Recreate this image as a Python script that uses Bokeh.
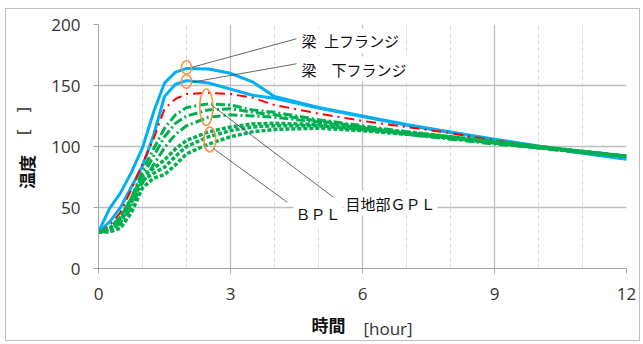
from bokeh.plotting import figure
from bokeh.models import FixedTicker, Label, LinearAxis
from bokeh.embed import file_html
from bokeh.resources import INLINE

# ---- data (hours, temperature) ----
t = [0, 0.25, 0.5, 0.75, 1.0, 1.25, 1.5, 1.75, 2.0, 2.5, 3.0, 3.5, 4.0, 5, 6, 7, 8, 9, 10, 11, 12]

flange_upper = [30, 49, 62, 79, 99, 128, 152, 161, 164, 163.5, 160, 153, 141, 132, 125, 118, 112, 106, 100.5, 95, 90]
flange_lower = [30, 38, 50, 67, 84, 109, 141, 151, 154, 152, 147, 142, 139.5, 131.5, 124.5, 117.5, 111.5, 105.5, 100, 94.5, 89.5]
red_line = [30, 35, 46, 65, 86, 106, 131, 139, 143, 144, 143, 140, 134, 127, 121, 116, 111, 105, 100, 96, 91]

gpl_1 = [30, 33, 42, 58, 80, 98, 115, 126, 132, 135, 134, 130, 128, 122, 117, 112, 108, 104, 100, 96, 92]
gpl_2 = [30, 32, 40, 55, 76, 92, 108, 119, 125, 130, 131, 128, 126, 121, 116, 111, 107, 103, 99, 96, 92]
gpl_3 = [30, 31, 37, 50, 70, 85, 99, 110, 117, 124, 126, 125, 124, 120, 115, 110, 106, 102, 99, 95, 92]

bpl_1 = [30, 33, 42, 58, 76, 82, 89, 98, 105, 112, 116, 118.5, 119, 118, 115, 112, 108, 104, 100, 96, 92]
bpl_2 = [30, 31, 38, 54, 72, 78, 83, 92, 100, 108, 113, 116, 117, 117, 114, 111, 107, 103, 99, 96, 92]
bpl_3 = [30, 30, 33, 46, 66, 74, 77, 85, 94, 102, 108, 112, 114, 115, 113, 110, 107, 103, 99, 95, 92]

x_ticks = [0, 3, 6, 9, 12]
x_minor = [1, 2, 4, 5, 7, 8, 10, 11]
y_ticks = [0, 50, 100, 150, 200]

label_top = "梁\u2002上フランジ"
label_bottom = "梁　下フランジ"
label_gpl = "目地部ＧＰＬ"
label_bpl = "ＢＰＬ"
SP = "\u3000"
x_title_main = "時間" + SP * 4
x_title_unit = SP * 3 + "[hour]"
y_title_main = "温度" + SP * 3
y_title_unit = SP * 3 + "[" + SP + "]"

# ---- figure ----
p = figure(width=635, height=333, x_range=(0, 12), y_range=(0, 200),
           output_backend="svg", toolbar_location=None,
           min_border_left=92, min_border_right=15, min_border_top=15, min_border_bottom=74)
p.outline_line_color = None
p.background_fill_color = "white"
p.styles = {"border": "1px solid #BFBFBF", "margin-left": "5px", "margin-top": "8px"}

p.xaxis.ticker = FixedTicker(ticks=x_ticks, minor_ticks=x_minor)
p.yaxis.ticker = FixedTicker(ticks=y_ticks)
for ax in (p.xaxis, p.yaxis):
    ax.axis_line_color = "#A6A6A6"
    ax.major_tick_line_color = "#A6A6A6"
    ax.major_tick_out = 5
    ax.major_tick_in = 0
    ax.minor_tick_line_color = None
    ax.major_label_text_font = "Open Sans"
    ax.major_label_text_font_size = "17px"
    ax.major_label_text_color = "#333333"
    ax.axis_label_text_font = "Noto Sans CJK JP"
    ax.axis_label_text_font_size = "17px"
    ax.axis_label_text_font_style = "bold"
    ax.axis_label_text_color = "#111111"
p.xaxis.major_label_standoff = 14
p.yaxis.major_label_standoff = 13
p.xaxis.axis_label = x_title_main
p.yaxis.axis_label = y_title_main
p.xaxis.axis_label_standoff = 9
p.yaxis.axis_label_standoff = 9

# unit parts of the axis titles, drawn by label-only axes pulled back onto the same row
for side, text, back in (("below", x_title_unit, -23), ("left", y_title_unit, -22)):
    ax2 = LinearAxis(ticker=FixedTicker(ticks=[]), axis_line_color=None,
                     major_tick_line_color=None, minor_tick_line_color=None,
                     major_tick_out=0, major_label_standoff=0,
                     axis_label=text, axis_label_standoff=back,
                     axis_label_text_font="Open Sans", axis_label_text_font_size="17px",
                     axis_label_text_font_style="normal", axis_label_text_color="#333333")
    p.add_layout(ax2, side)

p.xgrid.grid_line_color = "#BFBFBF"
p.xgrid.grid_line_width = 1.3
p.xgrid.minor_grid_line_color = "#D9D9D9"
p.xgrid.minor_grid_line_dash = "4 3"
p.ygrid.grid_line_color = "#BFBFBF"
p.ygrid.grid_line_width = 1.3

# ---- series ----
blue = "#00B0F0"
green = "#00B050"
p.line(t, flange_upper, line_color=blue, line_width=3)
p.line(t, flange_lower, line_color=blue, line_width=3)
p.line(t, red_line, line_color="#FF0000", line_width=2, line_dash="10 5 2 5")
for s in (gpl_1, gpl_2, gpl_3):
    p.line(t, s, line_color=green, line_width=3, line_dash="9 3 2 3")
for s in (bpl_1, bpl_2, bpl_3):
    p.line(t, s, line_color=green, line_width=3.5, line_dash="4 2")

# ---- callouts ----
orange = "#F79646"
p.ellipse(x=[2.0, 2.0, 2.45, 2.53], y=[164.8, 153.3, 132.2, 105.7],
          width=[0.23, 0.23, 0.3, 0.27], height=[11, 11, 30, 20.5],
          fill_color=None, line_color=orange, line_width=1.6)
p.segment(x0=[2.13, 2.13, 2.58, 2.61], y0=[165.0, 152.7, 133.6, 98.4],
          x1=[4.5, 4.5, 5.34, 4.29], y1=[188.3, 167.8, 58.4, 54.3],
          line_color="#404040", line_width=0.8)

def txt(x, y, s):
    lab = Label(x=x, y=y, text=s, text_font="Noto Sans CJK JP", text_font_size="15px",
                text_align="left", text_baseline="middle", text_color="#111111",
                background_fill_color="white", padding=2)
    p.add_layout(lab)

txt(4.57, 186.5, label_top)
txt(4.57, 163.5, label_bottom)
txt(5.57, 53.5, label_gpl)
txt(4.43, 45.0, label_bpl)

open("out.html", "w").write(file_html(p, INLINE))
